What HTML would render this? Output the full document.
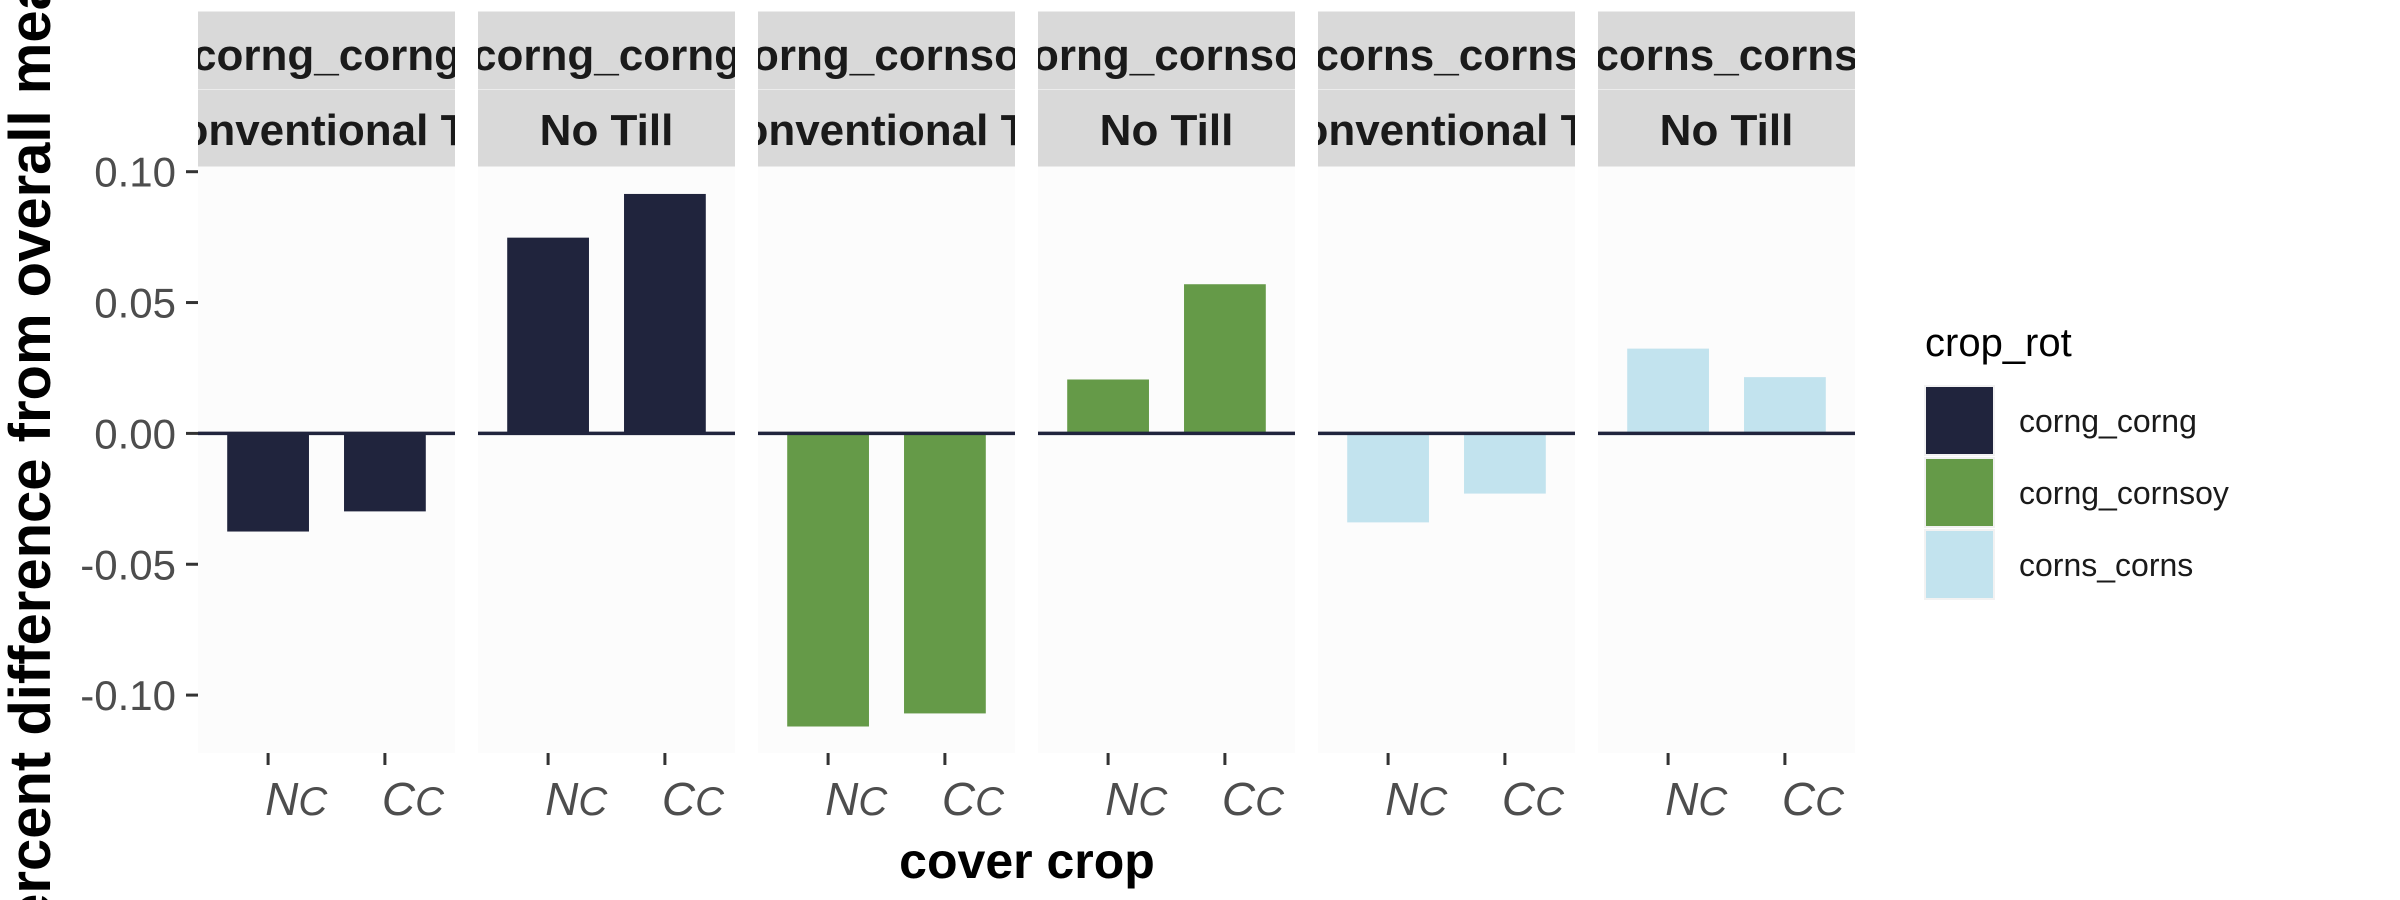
<!DOCTYPE html>
<html><head><meta charset="utf-8">
<style>
html,body{margin:0;padding:0;background:#fff;width:2400px;height:900px;overflow:hidden;}
svg{display:block;font-family:"Liberation Sans",sans-serif;overflow:hidden;}
</style></head>
<body>
<svg id="chart" width="2400" height="900" viewBox="0 0 2400 900" xmlns="http://www.w3.org/2000/svg">
<text transform="translate(50,452) rotate(-90)" text-anchor="middle" font-size="58" font-weight="bold" fill="#000">percent difference from overall mean</text>
<text x="1027" y="878" text-anchor="middle" font-size="50" font-weight="bold" fill="#000">cover crop</text>
<g id="panels"></g>
<g id="yaxis"></g>
<g id="legend"></g>
</svg>
<script>
const rotations = ["corng_corng","corng_corng","corng_cornsoy","corng_cornsoy","corns_corns","corns_corns"];
const tillage = ["Conventional Till","No Till","Conventional Till","No Till","Conventional Till","No Till"];
const categories = ["NC","CC"];
const ncValues = [-0.0375, 0.0748, -0.112, 0.0206, -0.034, 0.0324];
const ccValues = [-0.0298, 0.0915, -0.107, 0.057, -0.023, 0.0215];
const yTicks = [0.10, 0.05, 0.00, -0.05, -0.10];
const yTickLabels = ["0.10","0.05","0.00","-0.05","-0.10"];
const legendLabels = ["corng_corng","corng_cornsoy","corns_corns"];

const colors = {"corng_corng":"#20243d","corng_cornsoy":"#659a48","corns_corns":"#c2e3ee"};
const NS="http://www.w3.org/2000/svg";
const panelTop=166.5, panelBottom=753, panelW=257, panelGap=23, panelX0=198;
function y(v){ return 433.4 - v*2617; }
function px(i){ return panelX0 + i*(panelW+panelGap); }
function x(i,c){ return px(i) + (c+0.6)*panelW/2.2; }
const bw = 0.7*panelW/2.2;
function mk(tag, attrs, parent){ const e=document.createElementNS(NS,tag); for(const k in attrs) e.setAttribute(k,attrs[k]); parent.appendChild(e); return e; }

const panels=document.getElementById('panels');
const svg=document.getElementById('chart');
const defs=mk('defs',{},svg);
for(let i=0;i<rotations.length;i++){
  const g=mk('g',{},panels);
  
  
  const cp=mk('clipPath',{id:'clip'+i},defs);
  mk('rect',{x:px(i),y:0,width:panelW,height:900},cp);
  const bg=mk('rect',{x:px(i),y:panelTop,width:panelW,height:panelBottom-panelTop,fill:'#fcfcfc'},g);
  
  
  const s1=mk('rect',{x:px(i),y:11.5,width:panelW,height:77.5,fill:'#d9d9d9'},g);
  
  
  const s2=mk('rect',{x:px(i),y:89.5,width:panelW,height:77,fill:'#d9d9d9'},g);
  
  
  const t1=mk('text',{x:px(i)+panelW/2,y:70,'text-anchor':'middle','font-size':'44','font-weight':'bold',fill:'#1a1a1a','clip-path':'url(#clip'+i+')'},g);
  t1.textContent=rotations[i];
  
  
  const t2=mk('text',{x:px(i)+panelW/2,y:145,'text-anchor':'middle','font-size':'44','font-weight':'bold',fill:'#1a1a1a','clip-path':'url(#clip'+i+')'},g);
  t2.textContent=tillage[i];
  
  
  const vals=[ncValues[i],ccValues[i]];
  for(let c=0;c<2;c++){
    const v=vals[c];
    const b=mk('rect',{x:x(i,c)-bw/2,y:Math.min(y(v),y(0)),width:bw,height:Math.abs(y(v)-y(0)),fill:colors[rotations[i]]},g);
    
    
    const tk=mk('line',{x1:x(i,c),x2:x(i,c),y1:panelBottom,y2:panelBottom+12,stroke:'#333','stroke-width':3},g);
    
    
    const lb=mk('text',{x:x(i,c)-3,y:815,'font-size':'46','font-style':'italic',fill:'#4d4d4d'},g);
    
    
    const a=mk('tspan',{},lb); a.textContent=categories[c][0];
    const b2=mk('tspan',{'font-size':'40'},lb); b2.textContent=categories[c][1];
  }
  const zl=mk('line',{x1:px(i),x2:px(i)+panelW,y1:y(0),y2:y(0),stroke:'#20243d','stroke-width':3.5},g);
  
  
}
const yaxis=document.getElementById('yaxis');
for(let k=0;k<yTicks.length;k++){
  const tk=mk('line',{x1:186,x2:198,y1:y(yTicks[k]),y2:y(yTicks[k]),stroke:'#333','stroke-width':3},yaxis);
  
  
  const t=mk('text',{x:176,y:y(yTicks[k])+15,'text-anchor':'end','font-size':'42',fill:'#4d4d4d'},yaxis);
  t.textContent=yTickLabels[k];
  
  
}
const legend=document.getElementById('legend');
const lt=mk('text',{x:1925,y:356,'font-size':'40',fill:'#000'},legend);
lt.textContent='crop_rot';


for(let k=0;k<legendLabels.length;k++){
  const ky=386+k*72;
  const r=mk('rect',{x:1925,y:ky,width:69,height:69,fill:colors[legendLabels[k]],stroke:'#f2f2f2','stroke-width':2},legend);
  
  
  const t=mk('text',{x:2019,y:ky+46,'font-size':'32',fill:'#1a1a1a'},legend);
  t.textContent=legendLabels[k];
  
  
}
</script>
</body></html>
